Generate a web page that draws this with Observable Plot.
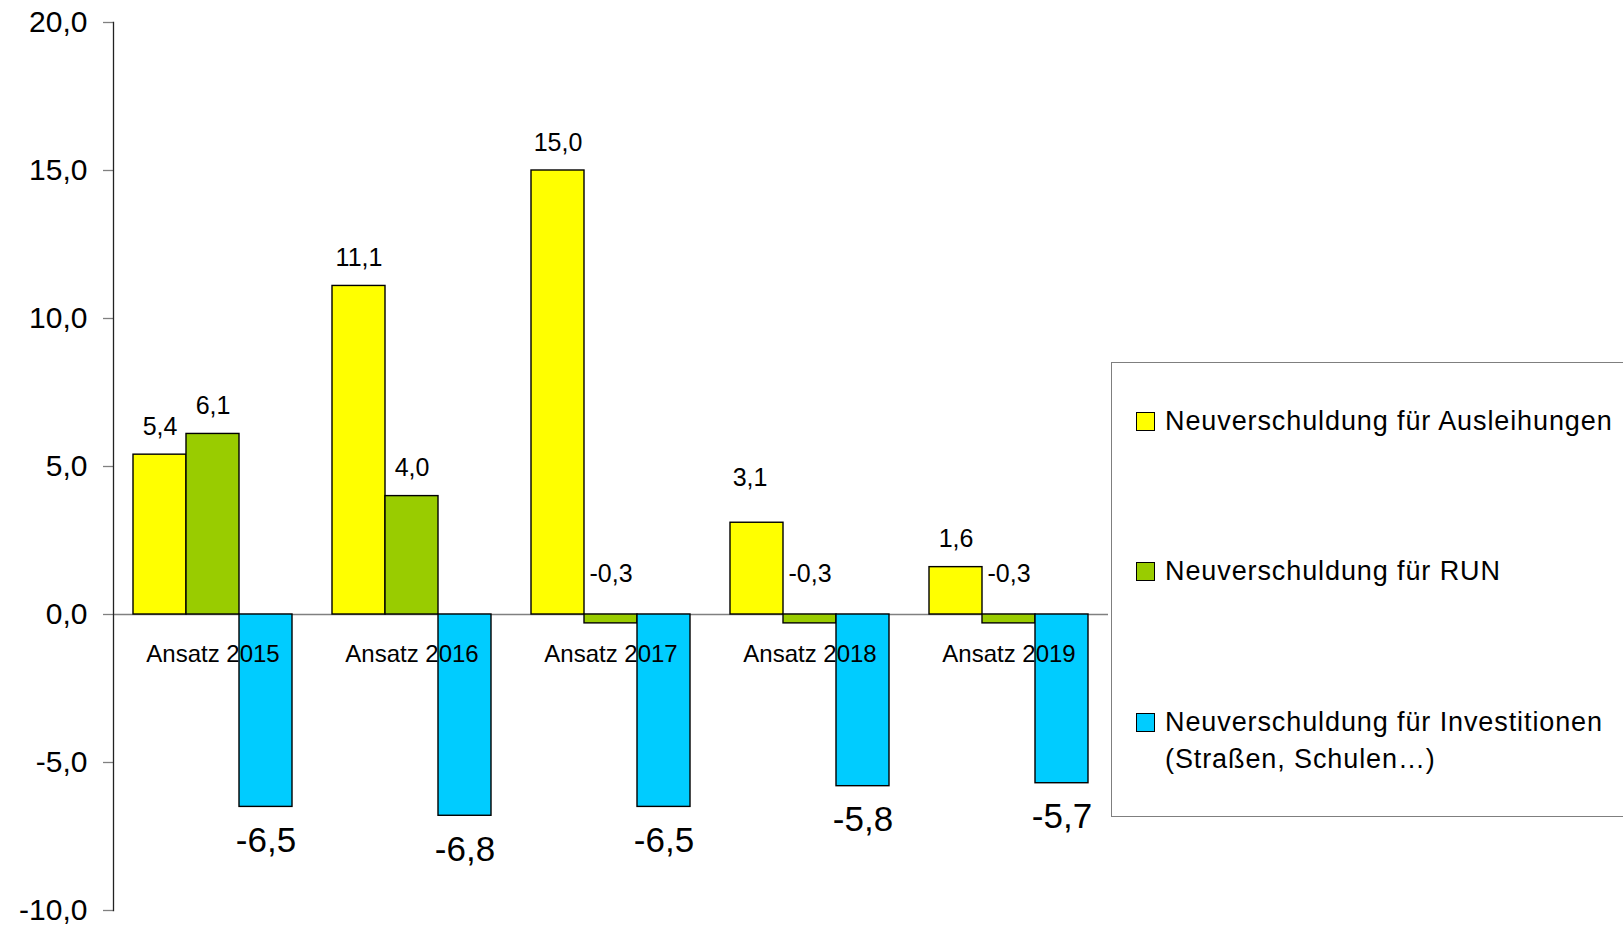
<!DOCTYPE html>
<html>
<head>
<meta charset="utf-8">
<script src="https://cdn.jsdelivr.net/npm/d3@7"></script>
<script src="https://cdn.jsdelivr.net/npm/@observablehq/plot@0.6"></script>
<style>
  html, body { margin: 0; padding: 0; background: #fff; }
  #wrap { position: relative; width: 1623px; height: 927px; overflow: hidden; font-family: "Liberation Sans", Arial, sans-serif; }
  #chart svg { display: block; }
  g[aria-label="cat-labels"] text { letter-spacing: -1.3px; }
  g[aria-label="value-labels"] text { letter-spacing: 0.6px; }
  #legend { position: absolute; left: 1111px; top: 362px; width: 540px; height: 455px;
    border: 1px solid #7f7f7f; background: #fff; box-sizing: border-box; }
  .item { position: absolute; left: 24px; display: flex; align-items: flex-start; font-size: 27px; letter-spacing: 0.9px; line-height: 37px; color: #000; }
  .sw { width: 17px; height: 17px; border: 1.5px solid #000; margin-top: 9px; margin-right: 10px; flex: none; }
</style>
</head>
<body>
<div id="wrap">
  <div id="chart"></div>
  <div id="legend"></div>
</div>
<script>
const categories = ["Ansatz 2015", "Ansatz 2016", "Ansatz 2017", "Ansatz 2018", "Ansatz 2019"];
const seriesNames = ["Neuverschuldung für Ausleihungen", "Neuverschuldung für RUN", "Neuverschuldung für Investitionen\n(Straßen, Schulen…)"];
const ausleihungen = [5.4, 11.1, 15.0, 3.1, 1.6];
const run = [6.1, 4.0, -0.3, -0.3, -0.3];
const investitionen = [-6.5, -6.8, -6.5, -5.8, -5.7];
const seriesColors = ["#FFFF00", "#99CC00", "#00CCFF"];
const yTicks = [-10, -5, 0, 5, 10, 15, 20];
const raisedLabelCategory = "Ansatz 2018";

const seriesValues = [ausleihungen, run, investitionen];
const rows = [];
categories.forEach((c, i) => seriesValues.forEach((vals, s) => rows.push({cat: c, s: seriesNames[s], si: s, v: vals[i]})));

const fmt = d => d.toFixed(1).replace(".", ",");
const isRaised = d => d.si === 0 && d.cat === raisedLabelCategory;

const chart = Plot.plot({
  width: 1623,
  height: 927,
  marginLeft: 112,
  marginRight: 515,
  marginTop: 22,
  marginBottom: 17,
  style: {fontFamily: "'Liberation Sans', Arial, sans-serif", background: "white", color: "black", overflow: "visible"},
  fx: {domain: categories, padding: 0, axis: null},
  x: {domain: seriesNames, paddingInner: 0, paddingOuter: 0.345, axis: null},
  y: {domain: [-10, 20], axis: null},
  color: {domain: seriesNames, range: seriesColors},
  marks: [
    Plot.ruleY([0], {stroke: "#808080", strokeWidth: 1.3}),
    Plot.axisY({ticks: yTicks, tickSize: 10, tickPadding: 16, stroke: "#808080", strokeWidth: 1.3, fill: "black", fontSize: 30, tickFormat: fmt, label: null}),
    Plot.frame({anchor: "left", facetAnchor: "left", stroke: "#222", strokeWidth: 1.3}),
    Plot.barY(rows, {fx: "cat", x: "s", y: "v", fill: "s", stroke: "black", strokeWidth: 1.4}),
    Plot.text(rows.filter(d => d.si < 2 && d.v > 0 && !isRaised(d)), {fx: "cat", x: "s", y: "v", text: d => fmt(d.v), dy: -28, fontSize: 25, fill: "black", ariaLabel: "value-labels"}),
    Plot.text(rows.filter(isRaised), {fx: "cat", x: "s", y: "v", text: d => fmt(d.v), dy: -45, dx: -7, fontSize: 25, fill: "black", ariaLabel: "value-labels"}),
    Plot.text(rows.filter(d => d.si < 2 && d.v <= 0), {fx: "cat", x: "s", y: () => 0, text: d => fmt(d.v), dy: -41, fontSize: 25, fill: "black", ariaLabel: "value-labels"}),
    Plot.text(rows.filter(d => d.si === 2), {fx: "cat", x: "s", y: "v", text: d => fmt(d.v), dy: 34, fontSize: 35, fill: "black"}),
    Plot.text(categories, {fx: d => d, y: () => 0, text: d => d, dy: 40, fontSize: 24, fill: "black", ariaLabel: "cat-labels"})
  ]
});
document.getElementById("chart").append(chart);

const legend = document.getElementById("legend");
const tops = [40, 190, 341];
seriesNames.forEach((name, i) => {
  const item = document.createElement("div");
  item.className = "item";
  item.style.top = tops[i] + "px";
  const sw = document.createElement("div");
  sw.className = "sw";
  sw.style.background = seriesColors[i];
  const label = document.createElement("div");
  label.style.whiteSpace = "pre";
  label.textContent = name;
  item.append(sw, label);
  legend.append(item);
});
</script>
</body>
</html>
